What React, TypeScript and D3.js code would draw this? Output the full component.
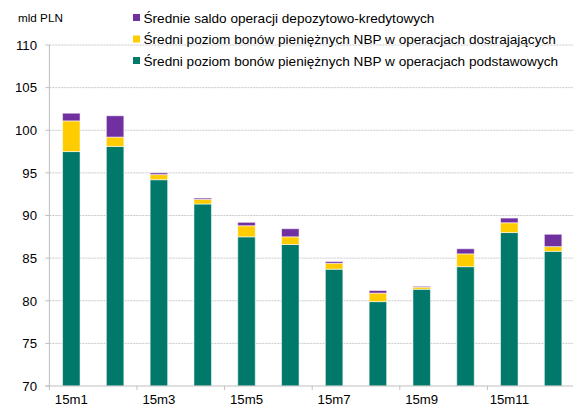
import React, { useEffect, useRef } from 'react';
import * as d3 from 'd3';

const months = ['15m1', '15m2', '15m3', '15m4', '15m5', '15m6', '15m7', '15m8', '15m9', '15m10', '15m11', '15m12'];
const podstawowe = [97.5, 98.1, 94.2, 91.35, 87.5, 86.6, 83.7, 79.9, 81.35, 84.0, 88.0, 85.8];
const dostrajajace = [3.6, 1.1, 0.6, 0.55, 1.3, 0.9, 0.7, 1.0, 0.25, 1.5, 1.15, 0.55];
const depozytowo = [0.9, 2.5, 0.2, 0.15, 0.4, 0.95, 0.2, 0.3, 0.1, 0.6, 0.55, 1.45];
const yTicks = [70, 75, 80, 85, 90, 95, 100, 105, 110];

const seriesKeys = ['podst', 'dostr', 'depo'];
const colors: Record<string, string> = { podst: '#00796B', dostr: '#FFCC00', depo: '#7030A0' };
const legendItems = [
  { key: 'depo', label: 'Średnie saldo operacji depozytowo-kredytowych' },
  { key: 'dostr', label: 'Średni poziom bonów pieniężnych NBP w operacjach dostrajających' },
  { key: 'podst', label: 'Średni poziom bonów pieniężnych NBP w operacjach podstawowych' },
];

export default function App() {
  const ref = useRef<SVGSVGElement>(null);

  useEffect(() => {
    const width = 573, height = 409;
    const left = 49.4, right = 575, top = 45, bottom = 386;
    const font = 'Liberation Sans, Arial, sans-serif';

    const svg = d3.select(ref.current).attr('width', width).attr('height', height);
    svg.selectAll('*').remove();

    const rows = months.map((m, i) => ({ month: m, podst: podstawowe[i], dostr: dostrajajace[i], depo: depozytowo[i] }));
    const stacked = d3.stack<any>().keys(seriesKeys)(rows);

    const x = d3.scaleBand().domain(months).range([left, right]).paddingInner(0.6).paddingOuter(0.3);
    const y = d3.scaleLinear().domain([70, 110]).range([bottom, top]);
    const step = x.step();

    // gridlines
    svg.append('g').selectAll('line').data(yTicks.filter(t => t > 70)).join('line')
      .attr('x1', left).attr('x2', width).attr('y1', d => y(d)).attr('y2', d => y(d))
      .attr('stroke', '#c8c8c8').attr('stroke-width', 1).attr('stroke-dasharray', '2,1');

    // y tick labels and small ticks
    svg.append('g').selectAll('text').data(yTicks).join('text')
      .attr('x', 37).attr('y', d => y(d)).attr('dy', '0.36em').attr('text-anchor', 'end')
      .style('font-family', font).style('font-size', '13.2px').attr('fill', '#000').text(d => d);
    svg.append('g').selectAll('line').data(yTicks).join('line')
      .attr('x1', left - 4).attr('x2', left).attr('y1', d => y(d)).attr('y2', d => y(d))
      .attr('stroke', '#bfbfbf');

    // bars (axis starts at 70, so clip the base segment there)
    svg.append('g').selectAll('g').data(stacked).join('g').attr('fill', d => colors[d.key])
      .selectAll('rect').data(d => d).join('rect')
      .attr('x', d => x(d.data.month)!).attr('width', x.bandwidth())
      .attr('y', d => y(d[1])).attr('height', d => y(Math.max(d[0], 70)) - y(d[1]))
      .attr('stroke', '#ffffff').attr('stroke-opacity', 0.55).attr('stroke-width', 1);

    // axes lines
    svg.append('line').attr('x1', left).attr('x2', left).attr('y1', top).attr('y2', bottom).attr('stroke', '#bfbfbf');
    svg.append('line').attr('x1', left - 4).attr('x2', width).attr('y1', bottom).attr('y2', bottom).attr('stroke', '#bfbfbf');

    // x ticks every 2 months
    const tickIdx = d3.range(0, 7);
    svg.append('g').selectAll('line').data(tickIdx).join('line')
      .attr('x1', d => left + d * 2 * step).attr('x2', d => left + d * 2 * step)
      .attr('y1', bottom).attr('y2', bottom + 4).attr('stroke', '#bfbfbf');

    svg.append('g').selectAll('text').data(months.filter((_, i) => i % 2 === 0)).join('text')
      .attr('x', d => x(d)! + x.bandwidth() / 2).attr('y', 404).attr('text-anchor', 'middle')
      .style('font-family', font).style('font-size', '13.2px').attr('fill', '#000').text(d => d);

    // unit label
    svg.append('text').attr('x', 18).attr('y', 22).style('font-family', font).style('font-size', '11.7px')
      .attr('fill', '#000').text('mld PLN');

    // legend
    const lg = svg.append('g').selectAll('g').data(legendItems).join('g')
      .attr('transform', (d, i) => `translate(133, ${18 + i * 21.5})`);
    lg.append('rect').attr('x', 0).attr('y', -4).attr('width', 7).attr('height', 7).attr('fill', d => colors[d.key]);
    lg.append('text').attr('x', 10.5).attr('y', 0).attr('dy', '0.36em')
      .style('font-family', font).style('font-size', '13.6px').attr('fill', '#000').text(d => d.label);
  }, []);

  return (
    <svg ref={ref} style={{ position: 'absolute', left: 0, top: 0, background: '#fff' }}></svg>
  );
}
